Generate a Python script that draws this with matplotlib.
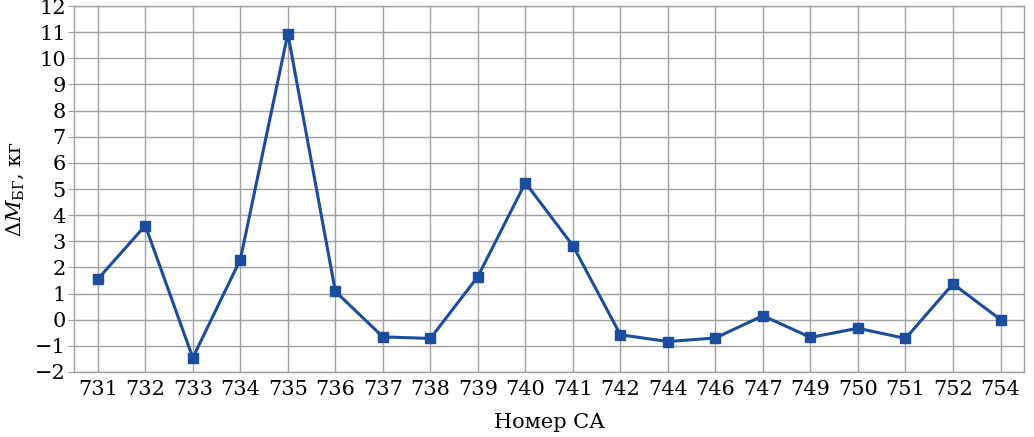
import matplotlib.pyplot as plt

plt.rcParams['font.family'] = ['DejaVu Serif']
plt.rcParams['mathtext.fontset'] = 'dejavuserif'

# Data
sa_numbers = ['731', '732', '733', '734', '735', '736', '737', '738', '739', '740',
              '741', '742', '744', '746', '747', '749', '750', '751', '752', '754']
delta_m = [1.55, 3.6, -1.46, 2.3, 10.95, 1.08, -0.66, -0.72, 1.65, 5.24,
           2.83, -0.58, -0.84, -0.7, 0.15, -0.68, -0.33, -0.72, 1.37, 0.0]
y_ticks = list(range(-2, 13))

fig = plt.figure(figsize=(10.34, 4.37), dpi=100)
ax = fig.add_axes([0.0716, 0.149, 0.919, 0.837])

x = list(range(len(sa_numbers)))
ax.plot(x, delta_m, color='#1c4c9c', linewidth=2.2, marker='s', markersize=7.5, zorder=3)

ax.set_xlim(-0.5, len(sa_numbers) - 0.5)
ax.set_ylim(-2, 12)
ax.set_xticks(x)
ax.set_xticklabels(sa_numbers)
ax.set_yticks(y_ticks)
ax.set_yticklabels([str(v).replace('-', '\u2212') for v in y_ticks])

ax.grid(True, color='#a0a0a0', linewidth=1.0)
ax.set_axisbelow(True)
for s in ax.spines.values():
    s.set_color('#a0a0a0')
    s.set_linewidth(1.0)
ax.tick_params(axis='x', length=0, labelsize=15, pad=6)
ax.tick_params(axis='y', length=4, color='#a0a0a0', labelsize=15, pad=2)

ax.set_xlabel('Номер СА', fontsize=15, labelpad=10)
ax.set_ylabel(r'$\Delta M_{\mathrm{БГ}}$, кг', fontsize=15, labelpad=6)

plt.savefig('out.png', dpi=100)
